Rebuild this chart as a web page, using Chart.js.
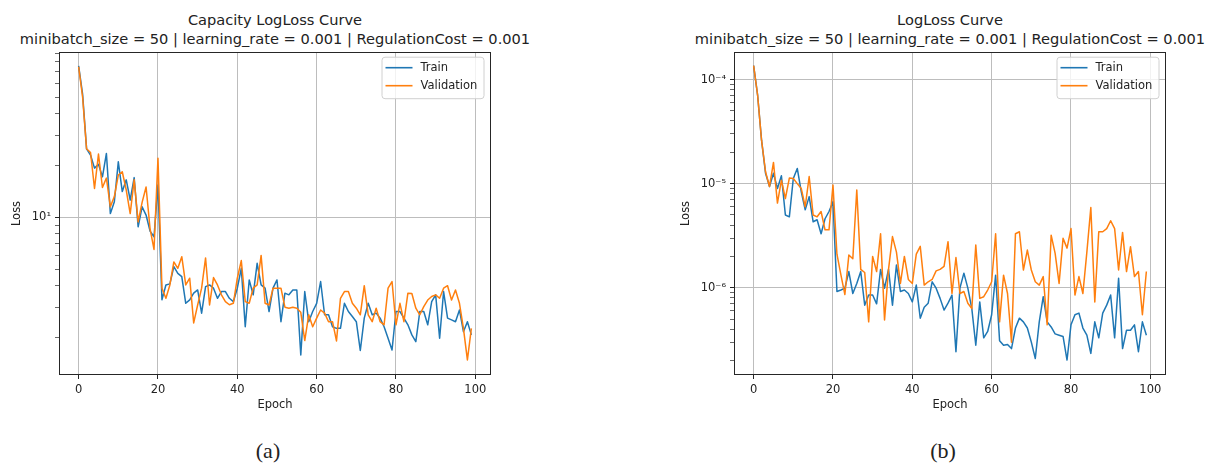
<!DOCTYPE html>
<html>
<head>
<meta charset="utf-8">
<script src="https://cdn.jsdelivr.net/npm/chart.js@4.4.1/dist/chart.umd.min.js"></script>
<style>
  body {
    margin: 0;
    width: 1205px;
    height: 464px;
    position: relative;
    overflow: hidden;
    background: #fff;
    font-family: "DejaVu Sans", sans-serif;
    color: #222;
  }
  .panel {
    position: absolute;
    top: 0;
    width: 600px;
    height: 420px;
  }
  .plot-title {
    position: absolute;
    top: 11px;
    transform: translateX(-50%);
    text-align: center;
    font-size: 14.6px;
    line-height: 18.6px;
    white-space: nowrap;
  }
  .caption {
    position: absolute;
    top: 451px;
    transform: translate(-50%, -50%);
    font-family: "Liberation Serif", "Times New Roman", serif;
    font-size: 22px;
    line-height: 1;
  }
</style>
</head>
<body>
  <div class="plot-title" style="left: 275px;">Capacity LogLoss Curve<br>minibatch_size = 50 | learning_rate = 0.001 | RegulationCost = 0.001</div>
  <div class="plot-title" style="left: 950px;">LogLoss Curve<br>minibatch_size = 50 | learning_rate = 0.001 | RegulationCost = 0.001</div>

  <div class="panel" style="left: 0;"><canvas id="capacityChart" width="600" height="420"></canvas></div>
  <div class="panel" style="left: 600px;"><canvas id="lossChart" width="600" height="420"></canvas></div>

  <div class="caption" style="left: 268px;">(a)</div>
  <div class="caption" style="left: 943px;">(b)</div>

<script>
const epochs = Array.from({ length: 100 }, (_, i) => i);
const epochTicks = [0, 20, 40, 60, 80, 100];
const epochRange = [-4.95, 103.95];

// (a) capacity model
const capacityTrain = [
  76, 52, 25, 23, 19.3, 20.3, 17.2, 23.5, 10.5, 12.3,
  21, 14.1, 16.5, 12.6, 17, 8.8, 11.5, 10.3, 8.3, 7.7,
  15.4, 3.31, 4.04, 4.1, 5.17, 4.72, 4.52, 3.16, 3.31, 3.62,
  3.78, 2.77, 3.95, 4.04, 3.87, 3.38, 3.7, 3.7, 3.38, 3.23,
  3.87, 5.05, 2.31, 4.32, 3.54, 5.4, 4.04, 3.87, 2.83, 3.87,
  4.32, 2.47, 3.62, 3.54, 3.78, 3.78, 1.58, 3.7, 2.47, 2.83,
  3.16, 4.23, 2.71, 2.71, 2.31, 2.26, 2.26, 3.16, 2.83, 2.65,
  2.47, 1.68, 2.59, 3.16, 2.71, 2.77, 2.59, 2.31, 1.98, 1.69,
  2.83, 2.83, 2.59, 2.37, 2.07, 1.89, 2.83, 2.83, 2.37, 3.23,
  3.54, 1.98, 3.7, 2.59, 2.53, 2.47, 2.89, 2.16, 2.47, 2.07,
];
const capacityValidation = [
  75, 50, 25, 23.8, 14.7, 23.3, 14.9, 16.9, 11.5, 13.2,
  17.6, 18.4, 14.4, 10.5, 16.5, 9.4, 12.2, 15, 8.6, 6.5,
  22, 3.87, 3.38, 4.04, 5.5, 5.05, 5.9, 4.04, 4.42, 2.43,
  3.09, 3.87, 5.8, 3.09, 4.46, 4.04, 3.54, 3.23, 3.1, 3.16,
  4.42, 5.6, 3.23, 3.16, 3.87, 4.04, 6, 3.16, 3.09, 3.87,
  3.87, 3.87, 3, 2.96, 3, 2.96, 2.8, 1.92, 2.71, 2.31,
  2.59, 2.89, 2.77, 2.47, 2.47, 1.91, 3.38, 3.7, 3.7, 3.16,
  2.96, 2.71, 4, 2.71, 2.47, 2.96, 2.47, 2.37, 3.87, 4.23,
  2.37, 3.16, 2.47, 3.62, 3.6, 2.96, 2.71, 3.02, 3.3, 3.46,
  3.54, 3.38, 3.87, 4, 3.3, 3.78, 3.16, 2.26, 1.48, 2.26,
];
const capacityRange = [1.21, 91.4];
const capacityMajorTicks = [10];
const capacityMajorLabels = ["10¹"];
const capacityDecades = [1, 10];

// (b) base model
const lossTrain = [
  1.36e-4, 7.1e-5, 2.6e-5, 1.26e-5, 9.4e-6, 1.26e-5, 9.0e-6, 1.19e-5, 5.0e-6, 4.8e-6,
  1.12e-5, 1.4e-5, 8.4e-6, 5.6e-6, 7.5e-6, 4.3e-6, 4.5e-6, 3.3e-6, 4.6e-6, 5.4e-6,
  6.7e-6, 9.2e-7, 9.5e-7, 9.9e-7, 1.43e-6, 8.8e-7, 1.1e-6, 1.43e-6, 6.8e-7, 8.5e-7,
  8.5e-7, 7.0e-7, 1.5e-6, 9.9e-7, 1.5e-6, 6.8e-7, 1.65e-6, 9.2e-7, 9.5e-7, 8.8e-7,
  7.3e-7, 1.06e-6, 5.1e-7, 6.5e-7, 7.1e-7, 1.14e-6, 9.9e-7, 7.9e-7, 6.1e-7, 7.1e-7,
  8.5e-7, 2.43e-7, 9.9e-7, 1.38e-6, 9.9e-7, 6.3e-7, 2.8e-7, 7.3e-7, 3.3e-7, 3.8e-7,
  5.5e-7, 1.32e-6, 3.1e-7, 2.8e-7, 2.85e-7, 2.6e-7, 4.1e-7, 5.1e-7, 4.7e-7, 4.1e-7,
  3.0e-7, 2.09e-7, 4.7e-7, 8.2e-7, 4.7e-7, 4.2e-7, 3.6e-7, 3.5e-7, 3.4e-7, 2.02e-7,
  4.4e-7, 5.5e-7, 5.7e-7, 4.1e-7, 3.5e-7, 2.34e-7, 4.7e-7, 3.3e-7, 5.7e-7, 6.8e-7,
  8.5e-7, 3.3e-7, 1.23e-6, 2.6e-7, 3.9e-7, 3.9e-7, 4.4e-7, 2.43e-7, 4.7e-7, 3.5e-7,
];
const lossValidation = [
  1.36e-4, 7.1e-5, 2.6e-5, 1.3e-5, 9.4e-6, 1.6e-5, 6.5e-6, 1.08e-5, 7.2e-6, 1.13e-5,
  1.12e-5, 1.0e-5, 9.0e-6, 6.0e-6, 1.17e-5, 5.0e-6, 4.8e-6, 5.4e-6, 3.6e-6, 3.6e-6,
  9.7e-6, 2.1e-6, 1.33e-6, 8.6e-7, 2.06e-6, 1.9e-6, 8.7e-6, 1.5e-6, 1.4e-6, 4.7e-7,
  2.0e-6, 1.43e-6, 3.3e-6, 4.9e-7, 1.5e-6, 3.1e-6, 2.2e-6, 1.1e-6, 2.0e-6, 1.2e-6,
  1.1e-6, 2.1e-6, 2.5e-6, 1.06e-6, 1.14e-6, 1.2e-6, 1.45e-6, 1.5e-6, 1.6e-6, 2.77e-6,
  8.8e-7, 1.95e-6, 8.8e-7, 9.2e-7, 7.1e-7, 6.3e-7, 2.57e-6, 7.9e-7, 8.2e-7, 9.5e-7,
  1.14e-6, 3.3e-6, 4.7e-7, 1.32e-6, 8.8e-7, 3.0e-7, 3.3e-6, 3.45e-6, 1.48e-6, 2.3e-6,
  1.48e-6, 1.14e-6, 1.06e-6, 1.28e-6, 4.4e-7, 3.2e-6, 2.14e-6, 1.1e-6, 2.98e-6, 2.4e-6,
  3.7e-6, 8.5e-7, 1.28e-6, 8.8e-7, 2.2e-6, 5.9e-6, 7.3e-7, 3.45e-6, 3.45e-6, 3.7e-6,
  4.4e-6, 3.7e-6, 1.48e-6, 3.4e-6, 1.43e-6, 2.48e-6, 1.28e-6, 1.43e-6, 5.5e-7, 1.43e-6,
];
const lossRange = [1.45e-7, 1.84e-4];
const lossMajorTicks = [1e-6, 1e-5, 1e-4];
const lossMajorLabels = ["10⁻⁶", "10⁻⁵", "10⁻⁴"];
const lossDecades = [1e-7, 1e-6, 1e-5, 1e-4];

const seriesNames = ["Train", "Validation"];
const palette = {
  train: "#1f77b4",
  validation: "#ff7f0e",
  text: "#222222",
  spine: "#262626",
  grid: "#bdbdbd",
};
const fontFamily = "'DejaVu Sans', sans-serif";
const labelFont = { family: fontFamily, size: 11.5 };

// all 1..9 multiples of each decade, kept inside the axis range
function logTicks(decades, range) {
  const values = [];
  decades.forEach((decade) => {
    for (let m = 1; m <= 9; m++) {
      const v = decade * m;
      if (v >= range[0] && v <= range[1]) values.push(v);
    }
  });
  return values;
}

function matchMajor(value, majors) {
  return majors.findIndex((m) => Math.abs(value - m) / m < 1e-6);
}

const framePlugin = {
  id: "frame",
  afterDatasetsDraw(chart) {
    const { ctx, chartArea: a } = chart;
    ctx.save();
    ctx.strokeStyle = palette.spine;
    ctx.lineWidth = 1;
    ctx.strokeRect(
      Math.round(a.left) + 0.5,
      Math.round(a.top) + 0.5,
      Math.round(a.right - a.left) - 1,
      Math.round(a.bottom - a.top) - 1,
    );
    ctx.restore();
  },
};

// matplotlib-style legend box in the upper right corner
const boxLegendPlugin = {
  id: "boxLegend",
  afterDraw(chart) {
    const { ctx, chartArea: a } = chart;
    const w = 102;
    const h = 41.5;
    const x0 = a.right - 7.5 - w;
    const y0 = a.top + 4.7;
    ctx.save();
    ctx.beginPath();
    ctx.roundRect(x0 + 0.5, y0 + 0.5, w, h, 3);
    ctx.fillStyle = "rgba(255,255,255,0.8)";
    ctx.fill();
    ctx.strokeStyle = "#d0d0d0";
    ctx.lineWidth = 1;
    ctx.stroke();
    ctx.font = `11.5px ${fontFamily}`;
    ctx.textBaseline = "middle";
    chart.data.datasets.forEach((ds, i) => {
      const y = y0 + 11 + i * 18;
      ctx.beginPath();
      ctx.moveTo(x0 + 4, y);
      ctx.lineTo(x0 + 31, y);
      ctx.strokeStyle = ds.borderColor;
      ctx.lineWidth = 1.6;
      ctx.stroke();
      ctx.fillStyle = palette.text;
      ctx.fillText(ds.label, x0 + 39, y);
    });
    ctx.restore();
  },
};

function buildChart(canvasId, cfg) {
  const yTicks = logTicks(cfg.decades, cfg.range);
  const toPoints = (values) => values.map((v, i) => ({ x: epochs[i], y: v }));

  return new Chart(document.getElementById(canvasId).getContext("2d"), {
    type: "line",
    data: {
      datasets: [
        {
          label: seriesNames[0],
          data: toPoints(cfg.train),
          borderColor: palette.train,
          order: 1,
        },
        {
          label: seriesNames[1],
          data: toPoints(cfg.validation),
          borderColor: palette.validation,
          order: 0,
        },
      ],
    },
    options: {
      responsive: false,
      animation: false,
      devicePixelRatio: 1,
      layout: {
        padding: { top: 52, left: cfg.padLeft, right: cfg.padRight, bottom: 0 },
      },
      elements: {
        point: { radius: 0 },
        line: { borderWidth: 1.5, tension: 0, borderJoinStyle: "round", fill: false },
      },
      plugins: {
        legend: { display: false },
        tooltip: { enabled: false },
      },
      scales: {
        x: {
          type: "linear",
          min: epochRange[0],
          max: epochRange[1],
          afterBuildTicks(scale) {
            scale.ticks = epochTicks.map((v) => ({ value: v }));
          },
          afterFit(scale) {
            scale.height = 45;
          },
          ticks: {
            autoSkip: false,
            maxRotation: 0,
            padding: 4,
            color: palette.text,
            font: labelFont,
          },
          grid: {
            color: palette.grid,
            lineWidth: 1,
            tickColor: palette.spine,
            tickLength: 4,
          },
          border: { display: false },
          title: {
            display: true,
            text: "Epoch",
            color: palette.text,
            font: labelFont,
            padding: { top: 0, bottom: 8 },
          },
        },
        y: {
          type: "logarithmic",
          min: cfg.range[0],
          max: cfg.range[1],
          afterBuildTicks(scale) {
            scale.ticks = yTicks.map((v) => ({ value: v }));
          },
          afterFit(scale) {
            scale.width = cfg.axisWidth;
          },
          ticks: {
            autoSkip: false,
            padding: 4,
            color: palette.text,
            font: labelFont,
            callback(value) {
              const i = matchMajor(value, cfg.majorTicks);
              return i >= 0 ? cfg.majorLabels[i] : "";
            },
          },
          grid: {
            color: (ctx) =>
              ctx.tick && matchMajor(ctx.tick.value, cfg.majorTicks) >= 0 ? palette.grid : "rgba(0,0,0,0)",
            lineWidth: 1,
            tickColor: palette.spine,
            tickWidth: (ctx) =>
              ctx.tick && matchMajor(ctx.tick.value, cfg.majorTicks) >= 0 ? 1 : 0.7,
            tickLength: 4,
          },
          border: { display: false },
          title: {
            display: true,
            text: "Loss",
            color: palette.text,
            font: labelFont,
            padding: { top: 10, bottom: 0 },
          },
        },
      },
    },
    plugins: [framePlugin, boxLegendPlugin],
  });
}

buildChart("capacityChart", {
  train: capacityTrain,
  validation: capacityValidation,
  range: capacityRange,
  decades: capacityDecades,
  majorTicks: capacityMajorTicks,
  majorLabels: capacityMajorLabels,
  padLeft: 0,
  padRight: 109,
  axisWidth: 59,
});

buildChart("lossChart", {
  train: lossTrain,
  validation: lossValidation,
  range: lossRange,
  decades: lossDecades,
  majorTicks: lossMajorTicks,
  majorLabels: lossMajorLabels,
  padLeft: 69,
  padRight: 34,
  axisWidth: 65,
});
</script>
</body>
</html>
